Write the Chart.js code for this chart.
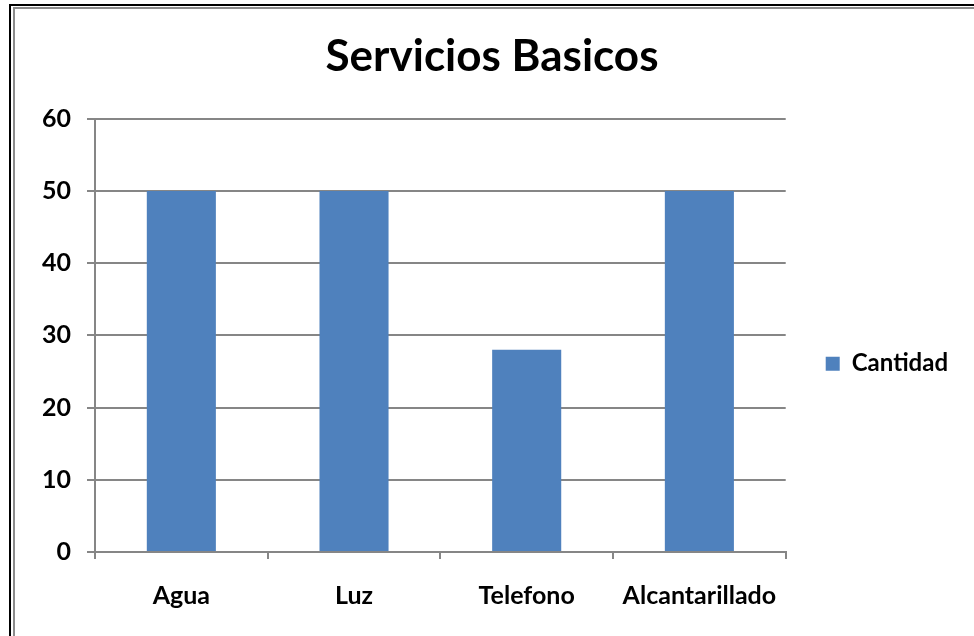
<!DOCTYPE html>
<html>
<head>
<meta charset="utf-8">
<script src="https://cdn.jsdelivr.net/npm/chart.js@4.4.1/dist/chart.umd.min.js"></script>
<style>
  html, body { margin: 0; padding: 0; background: #fff; }
  #frame {
    position: absolute; left: 9px; top: 4px; width: 970px; height: 640px;
    border-left: 2px solid #000; border-top: 2px solid #000;
  }
  #inner {
    position: absolute; left: 2px; top: 1px; right: 0; bottom: 0;
    border-left: 2px solid #8c8c8c; border-top: 2px solid #8c8c8c;
    border-right: 1px solid #bbb;
  }
  #wrap { position: absolute; left: 14px; top: 8px; width: 958px; height: 628px; }
</style>
</head>
<body>
<div id="frame"><div id="inner"></div></div>
<div id="wrap"><canvas id="chart"></canvas></div>
<script>
const categories = ["Agua", "Luz", "Telefono", "Alcantarillado"];
const cantidad = [50, 50, 28, 50];
const seriesLabel = "Cantidad";
const chartTitle = "Servicios Basicos";

const axisGray = "#868686";
const barBlue = "#4f81bd";

Chart.defaults.font.family = "Lato, 'Open Sans', sans-serif";
Chart.defaults.color = "#000";

const ctx = document.getElementById("chart");

new Chart(ctx, {
  type: "bar",
  data: {
    labels: categories,
    datasets: [
      {
        label: seriesLabel,
        data: cantidad,
        backgroundColor: barBlue,
        categoryPercentage: 1,
        barPercentage: 0.4,
      },
    ],
  },
  options: {
    responsive: true,
    maintainAspectRatio: false,
    animation: false,
    layout: {
      padding: { left: 12, right: 14, top: 0, bottom: 3 },
    },
    plugins: {
      title: {
        display: true,
        text: chartTitle,
        font: { size: 44, weight: "bold" },
        color: "#000",
        padding: { top: 22, bottom: 36 },
      },
      legend: {
        position: "right",
        title: {
          display: true,
          text: "",
          padding: { top: 0, bottom: 72 },
        },
        labels: {
          boxWidth: 14,
          boxHeight: 14,
          padding: 40,
          font: { size: 24, weight: "bold" },
          color: "#000",
        },
      },
      tooltip: { enabled: false },
    },
    scales: {
      x: {
        grid: {
          drawOnChartArea: false,
          drawTicks: true,
          tickLength: 7,
          color: axisGray,
          lineWidth: 2,
        },
        border: { color: axisGray, width: 2 },
        ticks: {
          padding: 22,
          font: { size: 25, weight: "bold" },
          color: "#000",
          maxRotation: 0,
        },
      },
      y: {
        min: 0,
        max: 60,
        grid: {
          color: axisGray,
          lineWidth: 2,
          tickLength: 8,
        },
        border: { color: axisGray, width: 2 },
        ticks: {
          stepSize: 10,
          padding: 16,
          font: { size: 25, weight: "bold" },
          color: "#000",
        },
      },
    },
  },
});
</script>
</body>
</html>
